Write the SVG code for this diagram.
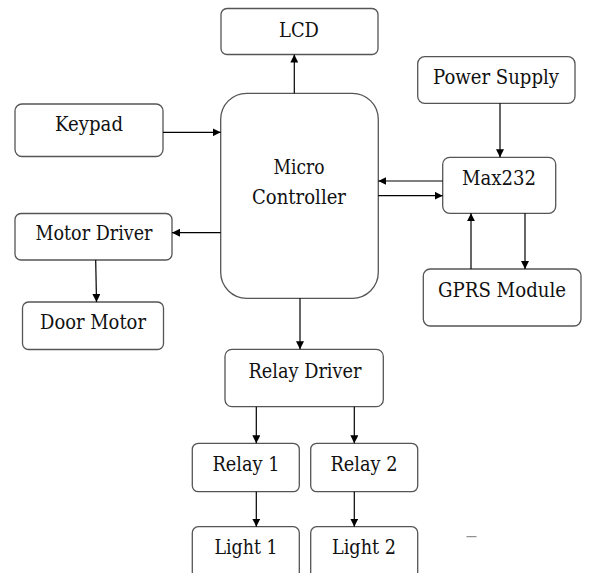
<svg xmlns="http://www.w3.org/2000/svg" width="590" height="573" viewBox="0 0 590 573">
  <defs>
    <marker id="arrow" viewBox="0 0 10 10" refX="10" refY="5" markerWidth="8" markerHeight="8" markerUnits="userSpaceOnUse" orient="auto">
      <path d="M0,0 L10,5 L0,10 z" fill="#000"/>
    </marker>
  </defs>
  <style>
    .box { fill: #fff; stroke: #555; stroke-width: 1.3; }
    text { font-family: 'DejaVu Serif', 'Liberation Serif', serif; font-size: 20.5px; fill: #111; text-anchor: middle; }
    .wire { stroke: #000; stroke-width: 1.2; fill: none; marker-end: url(#arrow); }
  </style>
  <rect width="590" height="573" fill="#fff"/>

  <g id="lcd">
    <rect class="box" x="221" y="8.5" width="157" height="46" rx="6"/>
    <text x="299" y="36.5" textLength="40" lengthAdjust="spacingAndGlyphs">LCD</text>
  </g>
  <g id="keypad">
    <rect class="box" x="15" y="104" width="148" height="52.5" rx="7"/>
    <text x="89" y="131" textLength="68" lengthAdjust="spacingAndGlyphs">Keypad</text>
  </g>
  <g id="motor-driver">
    <rect class="box" x="15" y="213.5" width="157" height="46.5" rx="6"/>
    <text x="94" y="240" textLength="117" lengthAdjust="spacingAndGlyphs">Motor Driver</text>
  </g>
  <g id="door-motor">
    <rect class="box" x="22.5" y="302" width="141" height="47.5" rx="6"/>
    <text x="93" y="329" textLength="106" lengthAdjust="spacingAndGlyphs">Door Motor</text>
  </g>
  <g id="micro-controller">
    <rect class="box" x="220.7" y="93.3" width="157.6" height="205" rx="26"/>
    <text x="299" y="174" textLength="51" lengthAdjust="spacingAndGlyphs">Micro</text>
    <text x="299" y="204" textLength="94" lengthAdjust="spacingAndGlyphs">Controller</text>
  </g>
  <g id="power-supply">
    <rect class="box" x="417.7" y="56.7" width="157.3" height="46.6" rx="7"/>
    <text x="496" y="84" textLength="126" lengthAdjust="spacingAndGlyphs">Power Supply</text>
  </g>
  <g id="max232">
    <rect class="box" x="442.7" y="157.3" width="113" height="56" rx="7"/>
    <text x="499" y="185" textLength="74" lengthAdjust="spacingAndGlyphs">Max232</text>
  </g>
  <g id="gprs-module">
    <rect class="box" x="423.3" y="269" width="157.7" height="57" rx="7"/>
    <text x="502" y="297" textLength="128" lengthAdjust="spacingAndGlyphs">GPRS Module</text>
  </g>
  <g id="relay-driver">
    <rect class="box" x="225" y="349.3" width="158.3" height="57.4" rx="7"/>
    <text x="305" y="378" textLength="113" lengthAdjust="spacingAndGlyphs">Relay Driver</text>
  </g>
  <g id="relay-1">
    <rect class="box" x="192.3" y="443.3" width="107" height="48.4" rx="6"/>
    <text x="246" y="471" textLength="67" lengthAdjust="spacingAndGlyphs">Relay 1</text>
  </g>
  <g id="relay-2">
    <rect class="box" x="310.7" y="443.3" width="107" height="48.4" rx="6"/>
    <text x="364" y="471" textLength="67" lengthAdjust="spacingAndGlyphs">Relay 2</text>
  </g>
  <g id="light-1">
    <rect class="box" x="192.3" y="526.7" width="107" height="60" rx="6"/>
    <text x="246" y="554" textLength="63" lengthAdjust="spacingAndGlyphs">Light 1</text>
  </g>
  <g id="light-2">
    <rect class="box" x="310.7" y="526.7" width="107" height="60" rx="6"/>
    <text x="364" y="554" textLength="64" lengthAdjust="spacingAndGlyphs">Light 2</text>
  </g>

  <g id="connectors">
    <line class="wire" x1="294.3" y1="93.3" x2="294.3" y2="54.5"/>
    <line class="wire" x1="163" y1="132.3" x2="220.7" y2="132.3"/>
    <line class="wire" x1="220.7" y1="232.7" x2="172" y2="232.7"/>
    <line class="wire" x1="95.7" y1="260" x2="96.5" y2="302"/>
    <line class="wire" x1="500" y1="103.3" x2="500" y2="157.3"/>
    <line class="wire" x1="442.7" y1="181" x2="378.3" y2="181"/>
    <line class="wire" x1="378.3" y1="195.7" x2="442.7" y2="195.7"/>
    <line class="wire" x1="471" y1="269" x2="471" y2="213.3"/>
    <line class="wire" x1="525" y1="213.3" x2="525" y2="269"/>
    <line class="wire" x1="300" y1="298.3" x2="300" y2="349.3"/>
    <line class="wire" x1="256.3" y1="406.7" x2="256.3" y2="443.3"/>
    <line class="wire" x1="354.3" y1="406.7" x2="354.3" y2="443.3"/>
    <line class="wire" x1="256.3" y1="491.7" x2="256.3" y2="526.7"/>
    <line class="wire" x1="354.3" y1="491.7" x2="354.3" y2="526.7"/>
  </g>

  <line x1="466.5" y1="536.7" x2="476.5" y2="536.7" stroke="#777" stroke-width="1"/>
</svg>
